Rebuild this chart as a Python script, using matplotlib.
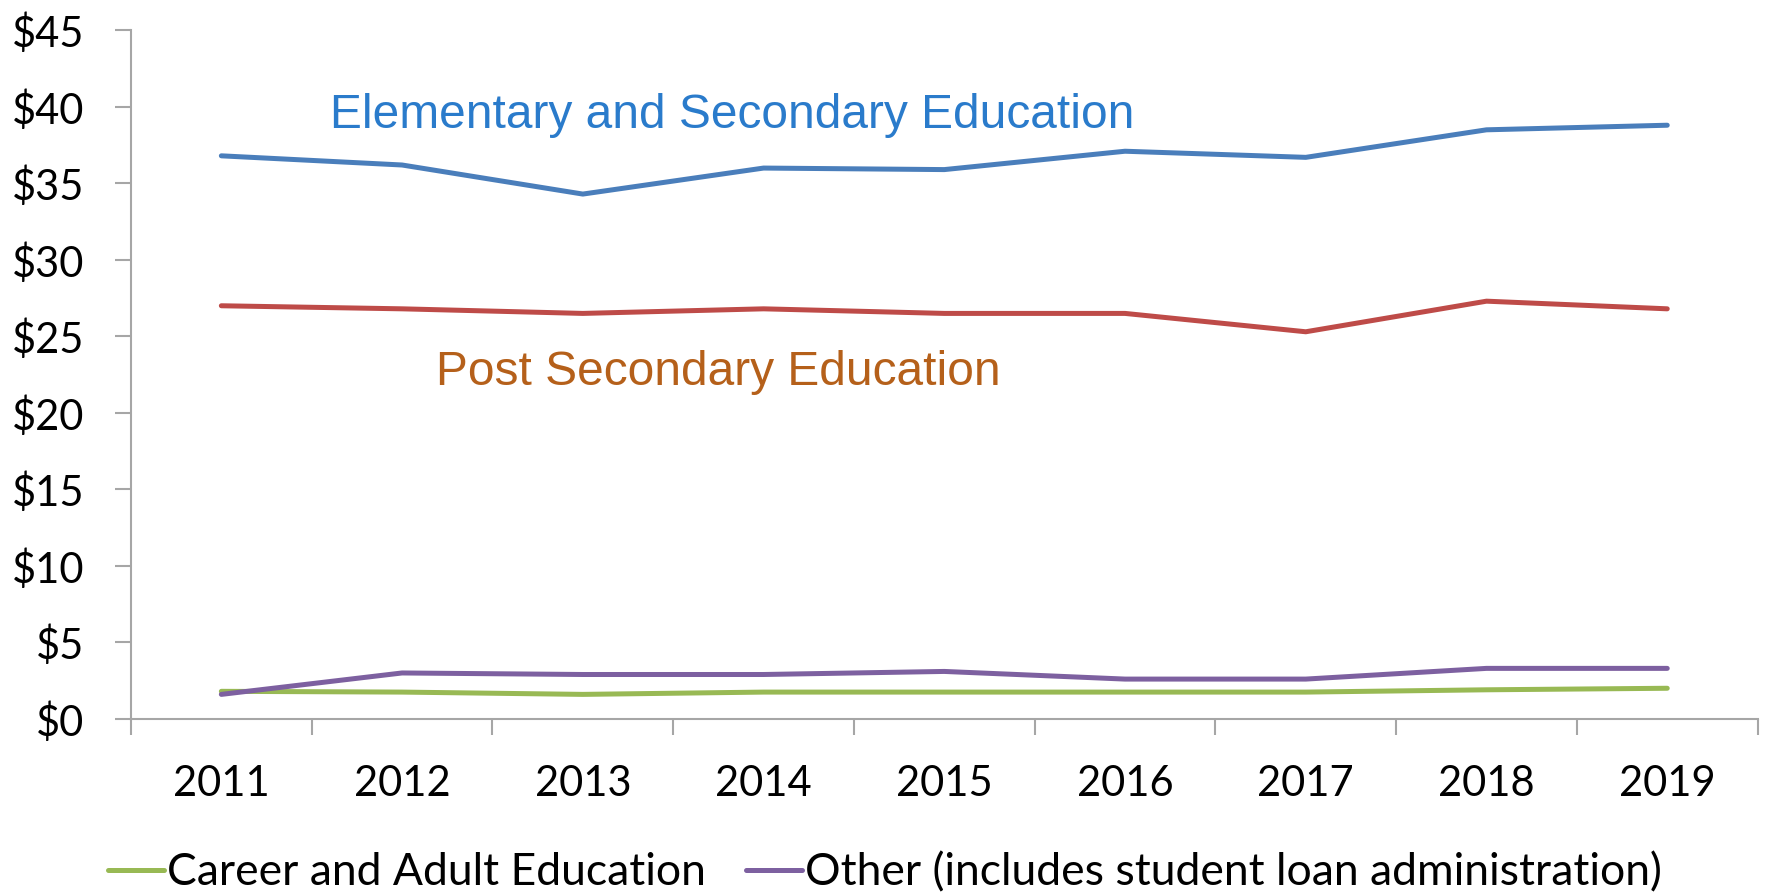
import matplotlib
matplotlib.use("Agg")
import matplotlib.pyplot as plt
import numpy as np
from matplotlib.ticker import FixedLocator, FuncFormatter

years = ["2011", "2012", "2013", "2014", "2015", "2016", "2017", "2018", "2019"]
elementary = [36.8, 36.2, 34.3, 36.0, 35.9, 37.1, 36.7, 38.5, 38.8]
post_secondary = [27.0, 26.8, 26.5, 26.8, 26.5, 26.5, 25.3, 27.3, 26.8]
career_adult = [1.8, 1.75, 1.6, 1.75, 1.75, 1.75, 1.75, 1.9, 2.0]
other = [1.6, 3.0, 2.9, 2.9, 3.1, 2.6, 2.6, 3.3, 3.3]
y_ticks = [0, 5, 10, 15, 20, 25, 30, 35, 40, 45]

plt.rcParams['font.family'] = ['Lato', 'DejaVu Sans']

fig = plt.figure(figsize=(17.7, 8.93), dpi=100)
ax = fig.add_axes([0.074, 0.195, 0.919, 0.771])

x = np.arange(len(years))
lw = 3.6
ax.plot(x, elementary, color="#4A7EBB", lw=lw, solid_capstyle="round")
ax.plot(x, post_secondary, color="#BE4B48", lw=lw, solid_capstyle="round")
l_career, = ax.plot(x, career_adult, color="#98B954", lw=lw, solid_capstyle="round",
                    label="Career and Adult Education")
l_other, = ax.plot(x, other, color="#7D60A0", lw=lw, solid_capstyle="round",
                   label="Other (includes student loan administration)")

ax.set_xlim(-0.5, len(years) - 0.5)
ax.set_ylim(0, 45)

ax.set_yticks(y_ticks)
ax.yaxis.set_major_formatter(FuncFormatter(lambda v, p: f"${int(v)}"))
ax.tick_params(axis="y", length=11.5, width=1.5, color="#A6A6A6", pad=22,
               labelsize=30, labelcolor="black")

ax.set_xticks(x)
ax.set_xticklabels(years)
ax.xaxis.set_minor_locator(FixedLocator(np.arange(-0.5, len(years), 1.0)))
ax.tick_params(axis="x", which="major", length=0, pad=33, labelsize=30)
ax.tick_params(axis="x", which="minor", length=11.5, width=1.5, color="#A6A6A6")

for s in ["top", "right"]:
    ax.spines[s].set_visible(False)
for s in ["left", "bottom"]:
    ax.spines[s].set_color("#A6A6A6")
    ax.spines[s].set_linewidth(1.5)

ax.text(0.60, 38.65, "Elementary and Secondary Education", color="#2A7BCB",
        fontsize=34.5, family=["Liberation Sans", "DejaVu Sans"], va="baseline", ha="left")
ax.text(1.19, 21.8, "Post Secondary Education", color="#B5601A",
        fontsize=34.5, family=["Liberation Sans", "DejaVu Sans"], va="baseline", ha="left")

fig.legend(handles=[l_career, l_other], loc="center", bbox_to_anchor=(0.50, 0.023),
           ncol=2, frameon=False, fontsize=32, handlelength=1.25, handletextpad=0.08,
           columnspacing=0.9, borderaxespad=0)

fig.savefig("out.png", dpi=100, facecolor="white")
